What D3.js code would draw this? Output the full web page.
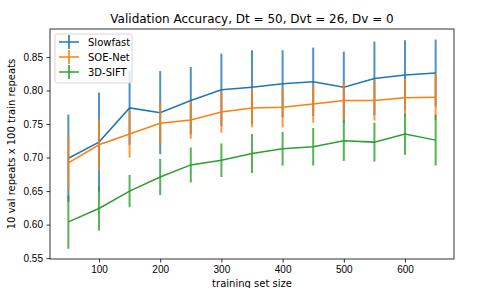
<!doctype html>
<html lang="en">
<head>
 <meta charset="utf-8">
 <title>Validation Accuracy</title>
 <style>
 body{margin:0;background:#fff;}
 svg{display:block;font-family:"DejaVu Sans",sans-serif;}
 .tick text{font-size:10px;fill:#000;}
 </style>
 <script src="https://cdnjs.cloudflare.com/ajax/libs/d3/7.8.5/d3.min.js"></script>
</head>
<body>
 <svg width="504" height="288"></svg>
 <script>

 const sizes=[50,100,150,200,250,300,350,400,450,500,550,600,650];

 const slowfastMean=[0.699,0.723,0.774,0.767,0.785,0.801,0.805,0.810,0.813,0.805,0.818,0.823,0.826];
 const slowfastStd =[0.065,0.074,0.055,0.062,0.050,0.054,0.055,0.050,0.051,0.053,0.055,0.052,0.050];

 const soeMean=[0.692,0.719,0.735,0.751,0.756,0.768,0.774,0.775,0.780,0.785,0.785,0.789,0.790];
 const soeStd =[0.040,0.038,0.035,0.031,0.028,0.031,0.029,0.030,0.028,0.028,0.030,0.028,0.034];

 const siftMean=[0.604,0.624,0.650,0.671,0.689,0.696,0.706,0.713,0.716,0.725,0.723,0.735,0.726];
 const siftStd =[0.040,0.033,0.024,0.027,0.026,0.025,0.029,0.025,0.028,0.030,0.029,0.031,0.038];

 const seriesNames=["Slowfast","SOE-Net","3D-SIFT"];
 const yTicks=[0.55,0.60,0.65,0.70,0.75,0.80,0.85];
 const xTicks=[100,200,300,400,500,600];

 const colors=["#1f77b4","#ff7f0e","#2ca02c"];
 const series=[
 {name:seriesNames[0],mean:slowfastMean,std:slowfastStd},
 {name:seriesNames[1],mean:soeMean,std:soeStd},
 {name:seriesNames[2],mean:siftMean,std:siftStd}
 ];

 const margin={top:29,left:50,right:50,bottom:29};
 const svgwid=504, svghei=288;
 const width=svgwid-margin.left-margin.right;
 const height=svghei-margin.top-margin.bottom;

 // matplotlib style 5% padding around the data
 const xScale=d3.scaleLinear().domain([20,680]).range([0,width]);
 const yScale=d3.scaleLinear().domain([0.5487,0.8917]).range([height,0]);

 const svg=d3.select("svg");
 const g=svg.append("g").attr("transform",`translate(${margin.left},${margin.top})`);

 g.append("g")
 .attr("transform",`translate(0,${height})`)
 .call(d3.axisBottom(xScale).tickValues(xTicks).tickSize(3.5).tickPadding(3.5).tickFormat(d3.format("d")))
 .call(a=>a.select(".domain").remove())
 .call(a=>a.selectAll("line").attr("stroke-width",0.8));

 g.append("g")
 .call(d3.axisLeft(yScale).tickValues(yTicks).tickSize(3.5).tickPadding(3.5).tickFormat(d3.format(".2f")))
 .call(a=>a.select(".domain").remove())
 .call(a=>a.selectAll("line").attr("stroke-width",0.8));

 const line=d3.line().x(d=>xScale(d.x)).y(d=>yScale(d.y));

 series.forEach((s,i)=>{
 const pts=sizes.map((x,j)=>({x:x,y:s.mean[j],e:s.std[j]}));
 g.append("path")
 .datum(pts)
 .attr("d",line)
 .attr("fill","none")
 .attr("stroke",colors[i])
 .attr("stroke-width",1.5);
 g.append("g")
 .selectAll("line")
 .data(pts)
 .enter()
 .append("line")
 .attr("x1",d=>xScale(d.x))
 .attr("x2",d=>xScale(d.x))
 .attr("y1",d=>yScale(d.y-d.e))
 .attr("y2",d=>yScale(d.y+d.e))
 .attr("stroke",colors[i])
 .attr("stroke-opacity",0.8)
 .attr("stroke-width",2);
 });

 g.append("rect")
 .attr("width",width).attr("height",height)
 .attr("fill","none").attr("stroke","#000").attr("stroke-width",0.8);

 // legend
 const lg=g.append("g").attr("transform","translate(5,5)");
 lg.append("rect")
 .attr("width",77).attr("height",49).attr("rx",2)
 .attr("fill","#fff").attr("fill-opacity",0.8)
 .attr("stroke","#ccc").attr("stroke-width",0.8);
 series.forEach((s,i)=>{
 const y=8+i*15;
 lg.append("line").attr("x1",4).attr("x2",24).attr("y1",y).attr("y2",y)
 .attr("stroke",colors[i]).attr("stroke-width",1.5);
 lg.append("line").attr("x1",14).attr("x2",14).attr("y1",y-7).attr("y2",y+7)
 .attr("stroke",colors[i]).attr("stroke-opacity",0.8).attr("stroke-width",2);
 lg.append("text").attr("x",33).attr("y",y+3.5)
 .style("font-size","10px").text(s.name);
 });

 svg.append("text")
 .attr("x",margin.left+width/2).attr("y",23)
 .attr("text-anchor","middle")
 .style("font-size","12px")
 .text("Validation Accuracy, Dt = 50, Dvt = 26, Dv = 0");

 svg.append("text")
 .attr("x",margin.left+width/2).attr("y",287)
 .attr("text-anchor","middle")
 .style("font-size","10px")
 .text("training set size");

 svg.append("text")
 .attr("transform",`translate(15,${margin.top+height/2}) rotate(-90)`)
 .attr("text-anchor","middle")
 .style("font-size","10px")
 .text("10 val repeats x 100 train repeats");

 </script>
</body>
</html>
